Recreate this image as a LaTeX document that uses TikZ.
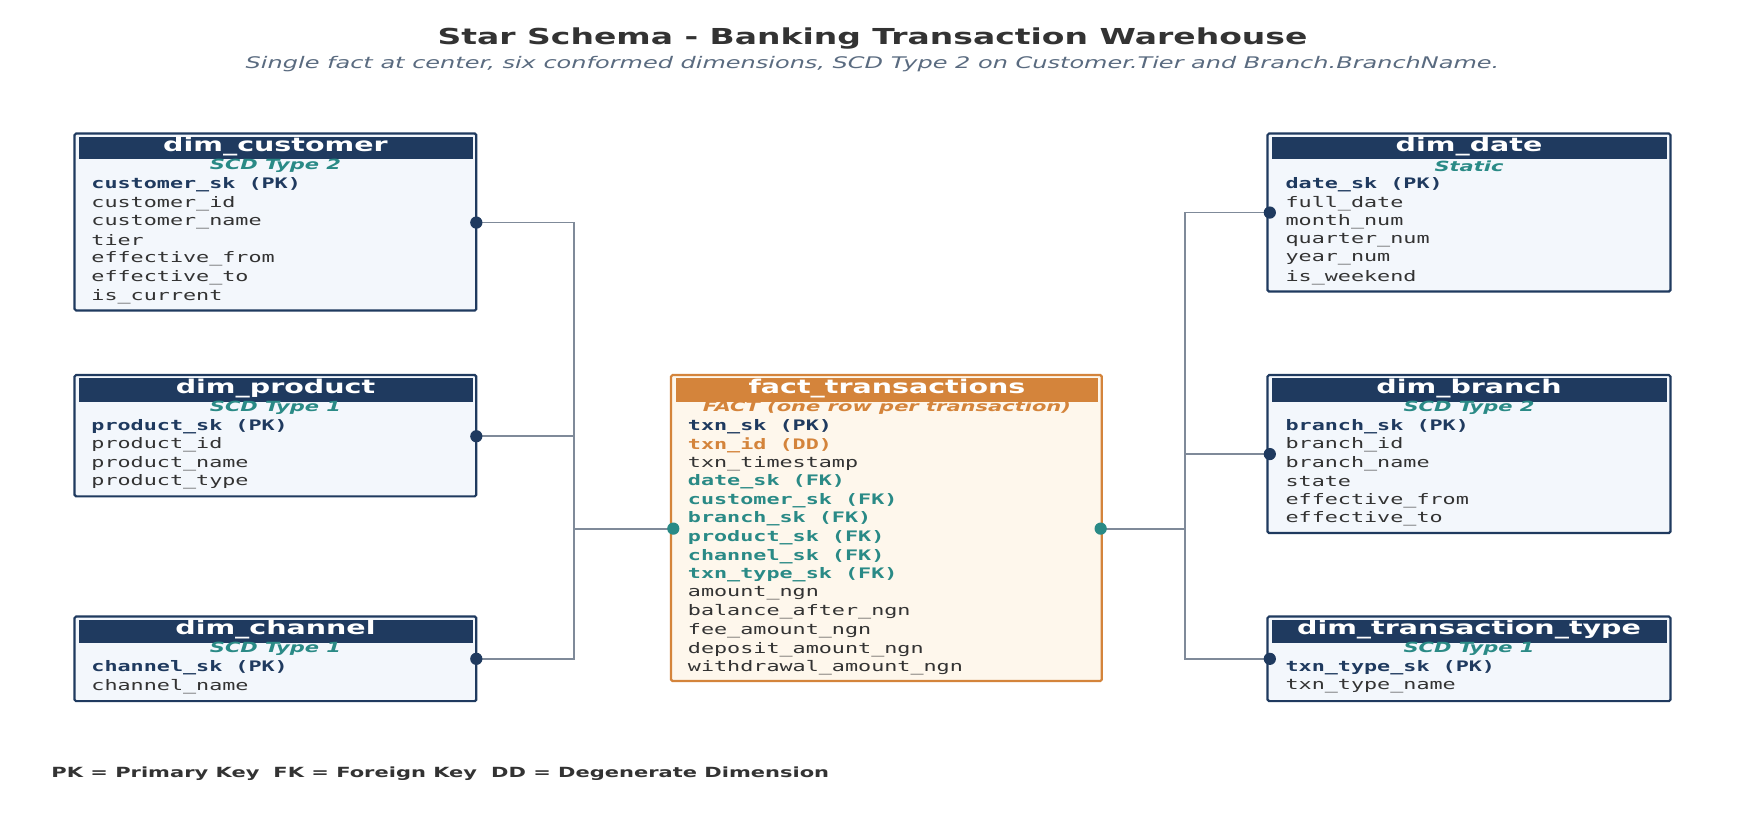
\documentclass[tikz,border=0pt]{standalone}
\usepackage{fontspec}
\setmainfont{DejaVu Sans}[FakeStretch=1.5]
\newfontfamily\monof{DejaVu Sans Mono}[FakeStretch=1.5]
\newfontfamily\sansx{DejaVu Sans}[FakeStretch=1.5]
\definecolor{navy}{HTML}{1F3A5F}
\definecolor{teal}{HTML}{2A8A86}
\definecolor{orng}{HTML}{D4843B}
\definecolor{lfill}{HTML}{F3F7FC}
\definecolor{ffill}{HTML}{FEF7EC}
\definecolor{txt}{HTML}{333333}
\definecolor{conn}{HTML}{7F8A99}
\definecolor{subt}{HTML}{5A6B80}
\tikzset{
  box/.style={draw=navy,line width=2.2pt,fill=lfill,rounded corners=1.5pt},
  fbox/.style={draw=orng,line width=2.2pt,fill=ffill,rounded corners=1.5pt},
  hdr/.style={font=\sansx\bfseries\fontsize{19}{19}\selectfont,text=white,inner sep=0pt},
  scd/.style={font=\sansx\bfseries\itshape\fontsize{14}{14}\selectfont,text=teal,inner sep=0pt},
  row/.style={anchor=west,inner sep=0pt,font=\monof\fontsize{14.5}{14.5}\selectfont},
  n/.style={row,text=txt},
  pk/.style={row,text=navy,font=\monof\bfseries\fontsize{14.5}{14.5}\selectfont},
  fk/.style={row,text=teal,font=\monof\bfseries\fontsize{14.5}{14.5}\selectfont},
  dd/.style={row,text=orng,font=\monof\bfseries\fontsize{14.5}{14.5}\selectfont},
  dot/.style={circle,fill=#1,inner sep=0pt,minimum size=11pt},
  ln/.style={draw=conn,line width=1.8pt}
}
\begin{document}
\begin{tikzpicture}[x=1.113pt,y=-1.113pt]
\useasboundingbox[fill=white] (0,0) rectangle (1568,748);
\node[font=\sansx\bfseries\fontsize{22}{22}\selectfont,text=txt] (title) at (784,35) {Star Schema - Banking Transaction Warehouse};
\node[font=\sansx\itshape\fontsize{16}{16}\selectfont,text=subt] (sub) at (784,58) {Single fact at center, six conformed dimensions, SCD Type 2 on Customer.Tier and Branch.BranchName.};

% dim_customer
\draw[box] (67,120) rectangle (428,279);
\fill[navy] (71,123) rectangle (425,143);
\node[hdr] (hc) at (247.5,132) {dim\_customer};
\node[scd] (sc) at (247.5,149) {SCD Type 2};
\foreach \s/\t [count=\i from 0] in {pk/customer\_sk (PK),n/customer\_id,n/customer\_name,n/tier,n/effective\_from,n/effective\_to,n/is\_current}
  \node[\s] (c\i) at (82,166+\i*16.7) {\t};

% dim_product
\draw[box] (67,337) rectangle (428,446);
\fill[navy] (71,340) rectangle (425,361);
\node[hdr] (hp) at (247.5,349) {dim\_product};
\node[scd] (sp) at (247.5,366) {SCD Type 1};
\foreach \s/\t [count=\i from 0] in {pk/product\_sk (PK),n/product\_id,n/product\_name,n/product\_type}
  \node[\s] (p\i) at (82,383+\i*16.7) {\t};

% dim_channel
\draw[box] (67,554) rectangle (428,630);
\fill[navy] (71,557) rectangle (425,578);
\node[hdr] (hch) at (247.5,566) {dim\_channel};
\node[scd] (sch) at (247.5,583) {SCD Type 1};
\foreach \s/\t [count=\i from 0] in {pk/channel\_sk (PK),n/channel\_name}
  \node[\s] (ch\i) at (82,600+\i*16.7) {\t};

% fact
\draw[fbox] (603,337) rectangle (990,612);
\fill[orng] (607,340) rectangle (987,361);
\node[hdr] (hf) at (797,349) {fact\_transactions};
\node[scd,text=orng] (sf) at (797,366) {FACT (one row per transaction)};
\foreach \s/\t [count=\i from 0] in {pk/txn\_sk (PK),dd/txn\_id (DD),n/txn\_timestamp,fk/date\_sk (FK),fk/customer\_sk (FK),fk/branch\_sk (FK),fk/product\_sk (FK),fk/channel\_sk (FK),fk/txn\_type\_sk (FK),n/amount\_ngn,n/balance\_after\_ngn,n/fee\_amount\_ngn,n/deposit\_amount\_ngn,n/withdrawal\_amount\_ngn}
  \node[\s] (f\i) at (618,383+\i*16.7) {\t};

% dim_date
\draw[box] (1139,120) rectangle (1501,262);
\fill[navy] (1143,123) rectangle (1498,143);
\node[hdr] (hd) at (1320,132) {dim\_date};
\node[scd] (sd) at (1320,149) {Static};
\foreach \s/\t [count=\i from 0] in {pk/date\_sk (PK),n/full\_date,n/month\_num,n/quarter\_num,n/year\_num,n/is\_weekend}
  \node[\s] (d\i) at (1155,166+\i*16.7) {\t};

% dim_branch
\draw[box] (1139,337) rectangle (1501,479);
\fill[navy] (1143,340) rectangle (1498,361);
\node[hdr] (hb) at (1320,349) {dim\_branch};
\node[scd] (sb) at (1320,366) {SCD Type 2};
\foreach \s/\t [count=\i from 0] in {pk/branch\_sk (PK),n/branch\_id,n/branch\_name,n/state,n/effective\_from,n/effective\_to}
  \node[\s] (b\i) at (1155,383+\i*16.7) {\t};

% dim_transaction_type
\draw[box] (1139,554) rectangle (1501,630);
\fill[navy] (1143,557) rectangle (1498,578);
\node[hdr] (ht) at (1320,566) {dim\_transaction\_type};
\node[scd] (st) at (1320,583) {SCD Type 1};
\foreach \s/\t [count=\i from 0] in {pk/txn\_type\_sk (PK),n/txn\_type\_name}
  \node[\s] (t\i) at (1155,600+\i*16.7) {\t};

% connector coordinates
\coordinate (jl) at (516,475);
\coordinate (jr) at (1065,475);
\node[dot=navy] (dc) at (428,200) {};
\node[dot=navy] (dp) at (428,392) {};
\node[dot=navy] (dch) at (428,592) {};
\node[dot=teal] (dfl) at (605,475) {};
\node[dot=teal] (dfr) at (989,475) {};
\node[dot=navy] (dd) at (1141,191) {};
\node[dot=navy] (db) at (1141,408) {};
\node[dot=navy] (dt) at (1141,592) {};
\begin{scope}[on background layer/.style={}]
\draw[ln] (dc.center) -| (jl);
\draw[ln] (dp.center) -| (jl);
\draw[ln] (dch.center) -| (jl);
\draw[ln] (jl) -- (dfl.center);
\draw[ln] (dd.center) -| (jr);
\draw[ln] (db.center) -| (jr);
\draw[ln] (dt.center) -| (jr);
\draw[ln] (jr) -- (dfr.center);
\end{scope}
\foreach \d/\c in {dc/navy,dp/navy,dch/navy,dfl/teal,dfr/teal,dd/navy,db/navy,dt/navy}
  \fill[\c] (\d) circle (5.5);

\node[anchor=west,font=\sansx\bfseries\fontsize{14}{14}\selectfont,text=txt] (legend) at (43,695) {PK = Primary Key\quad FK = Foreign Key\quad DD = Degenerate Dimension};
\end{tikzpicture}
\end{document}
